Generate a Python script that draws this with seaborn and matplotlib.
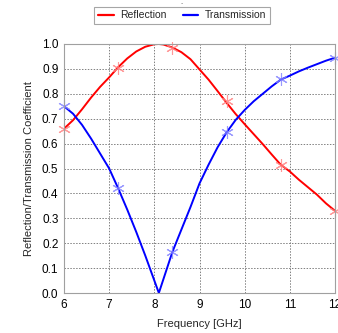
import matplotlib
matplotlib.use("Agg")
import matplotlib.pyplot as plt
import seaborn as sns
import pandas as pd

freq = [6.0, 6.2, 6.4, 6.6, 6.8, 7.0, 7.2, 7.4, 7.6, 7.8, 8.0, 8.1, 8.2, 8.4, 8.6, 8.8,
        9.0, 9.2, 9.4, 9.6, 9.8, 10.0, 10.2, 10.4, 10.6, 10.8, 11.0, 11.2, 11.4, 11.6,
        11.8, 12.0]
reflection = [0.66, 0.694, 0.738, 0.785, 0.828, 0.866, 0.907, 0.942, 0.970, 0.989, 0.999,
              1.0, 0.998, 0.986, 0.967, 0.939, 0.898, 0.857, 0.811, 0.764, 0.719, 0.678,
              0.638, 0.598, 0.556, 0.515, 0.488, 0.455, 0.425, 0.395, 0.36, 0.33]
transmission = [0.75, 0.72, 0.675, 0.62, 0.56, 0.50, 0.42, 0.335, 0.245, 0.15, 0.05, 0.0,
                0.055, 0.165, 0.255, 0.345, 0.44, 0.515, 0.585, 0.645, 0.695, 0.735, 0.77,
                0.80, 0.83, 0.857, 0.873, 0.89, 0.905, 0.919, 0.933, 0.945]

marker_freq = [6, 7.2, 8.4, 9.6, 10.8, 12]
marker_reflection = [0.66, 0.905, 0.985, 0.77, 0.515, 0.33]
marker_transmission = [0.75, 0.42, 0.165, 0.645, 0.86, 0.945]

sns.set_style("white")
plt.rcParams['font.family'] = ['Liberation Sans', 'DejaVu Sans']

fig = plt.figure(figsize=(3.38, 3.33), dpi=100)
ax = fig.add_axes([64/338, 40/333, 271/338, 249/333])

df = pd.DataFrame({"f": freq, "Reflection": reflection, "Transmission": transmission})
sns.lineplot(data=df, x="f", y="Reflection", color="#ff0000", lw=1.4, ax=ax, label="Reflection", sort=False)
sns.lineplot(data=df, x="f", y="Transmission", color="#0000ff", lw=1.4, ax=ax, label="Transmission", sort=False)

ax.plot(marker_freq, marker_reflection, linestyle="none", marker=(6, 2, 0), ms=9,
        mec="#ff8080", mew=0.8, alpha=0.8, clip_on=False)
ax.plot(marker_freq, marker_transmission, linestyle="none", marker=(6, 2, 0), ms=9,
        mec="#8080ff", mew=0.8, alpha=0.8, clip_on=False)

ax.set_xlim(6, 12)
ax.set_ylim(0, 1.0)
ax.set_xticks([6, 7, 8, 9, 10, 11, 12])
ax.set_yticks([i / 10 for i in range(11)])
ax.set_yticklabels([f"{i/10:.1f}" for i in range(11)])
ax.grid(True, color="#808080", linestyle=(0, (1.5, 1.5)), lw=0.7)
for s in ax.spines.values():
    s.set_color("#a0a0a0")
    s.set_linewidth(0.8)
ax.tick_params(labelsize=8.5, length=0, pad=4, colors="black")
ax.set_xlabel("Frequency [GHz]", fontsize=8, labelpad=6)
ax.set_ylabel("Reflection/Transmission Coefficient", fontsize=8, labelpad=6)

leg = ax.legend(loc="center", bbox_to_anchor=(182/338, 1 - 15.5/333), bbox_transform=fig.transFigure,
                ncol=2, fontsize=7.5, frameon=True, fancybox=False, handlelength=1.5,
                columnspacing=1.6, borderpad=0.35, handletextpad=0.6)
leg.get_frame().set_edgecolor("#909090")
leg.get_frame().set_linewidth(0.8)
for line in leg.get_lines():
    line.set_linewidth(1.6)

fig.text(182/338, 1 - 4/333, "-", fontsize=5, color="#808080", ha="center", va="center")

fig.savefig("out.png", dpi=100)
